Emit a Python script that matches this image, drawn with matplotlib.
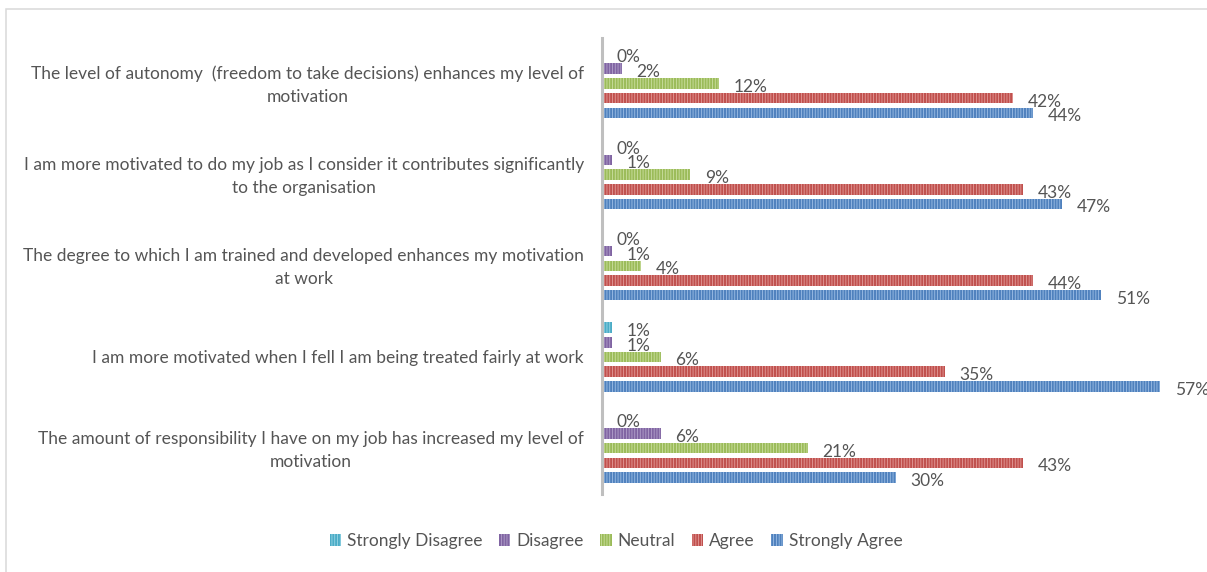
import matplotlib
matplotlib.use("Agg")
import matplotlib.pyplot as plt
from matplotlib.patches import Rectangle
from matplotlib.transforms import ScaledTranslation
import numpy as np

plt.rcParams["font.family"] = ["Lato", "DejaVu Sans"]
plt.rcParams["hatch.linewidth"] = 0.6

categories = [
    "The level of autonomy  (freedom to take decisions) enhances my level of\nmotivation",
    "I am more motivated to do my job as I consider it contributes significantly\nto the organisation",
    "The degree to which I am trained and developed enhances my motivation\nat work",
    "I am more motivated when I fell I am being treated fairly at work",
    "The amount of responsibility I have on my job has increased my level of\nmotivation",
]
series_names = ["Strongly Disagree", "Disagree", "Neutral", "Agree", "Strongly Agree"]
strongly_disagree = [0, 0, 0, 1, 0]
disagree = [2, 1, 1, 1, 6]
neutral = [12, 9, 4, 6, 21]
agree = [42, 43, 44, 35, 43]
strongly_agree = [44, 47, 51, 57, 30]

series_values = [strongly_disagree, disagree, neutral, agree, strongly_agree]
colors = ["#4BACC6", "#8064A2", "#9BBB59", "#C0504D", "#4F81BD"]
stripe = ["#9AD6E6", "#B3A2CC", "#CCE0A2", "#E39C9A", "#9EBFE6"]
text_color = "#555555"
fs = 12.5

W, H = 1207, 572
fig = plt.figure(figsize=(W / 100, H / 100), dpi=100)

# chart frame
fig.patches.append(Rectangle((6 / W, -0.05), 1.2, 1 - 9 / H + 0.05,
                             transform=fig.transFigure, fill=False,
                             edgecolor="#D9D9D9", linewidth=1.1))

ax = fig.add_axes([602 / W, 1 - 493.8 / H, (W - 602) / W, 456 / H])
ax.set_xlim(0, (W - 602) / 9.79)
ax.set_ylim(4.5, -0.5)

slot = 14.7 / 91.2
bar_h = 10.5 / 91.2
y = np.arange(len(categories))
for j, (name, vals) in enumerate(zip(series_names, series_values)):
    ypos = y + (j - 2) * slot
    ax.barh(ypos, vals, height=bar_h, color=colors[j], edgecolor=stripe[j],
            linewidth=0, hatch="|" * 6, label=name)
    for yy, v in zip(ypos, vals):
        ax.annotate(f"{v}%", (v, yy), xytext=(10.5, -2.5),
                    textcoords="offset points", ha="left", va="center",
                    fontsize=fs, color=text_color, annotation_clip=False)

ax.set_yticks(y)
ax.set_yticklabels(categories, fontsize=fs, color=text_color,
                   multialignment="center", linespacing=1.55)
ax.tick_params(axis="y", length=0, pad=13)
# nudge the wrapped labels up a little
lift = ScaledTranslation(0, 3 / 100, fig.dpi_scale_trans)
for lbl in ax.get_yticklabels():
    if "\n" in lbl.get_text():
        lbl.set_transform(lbl.get_transform() + lift)
ax.set_xticks([])
for s in ["top", "right", "bottom"]:
    ax.spines[s].set_visible(False)
ax.spines["left"].set_color("#BFBFBF")
ax.spines["left"].set_linewidth(2.2)
ax.patch.set_alpha(0)

handles, labels = ax.get_legend_handles_labels()
leg = fig.legend(handles, labels, loc="center", bbox_to_anchor=(616 / W, 1 - 541 / H),
                 ncol=5, frameon=False, fontsize=fs, handlelength=0.65,
                 handleheight=0.65, handletextpad=0.35, columnspacing=0.95,
                 labelcolor=text_color)

fig.savefig("out.png", dpi=100, facecolor="white")
